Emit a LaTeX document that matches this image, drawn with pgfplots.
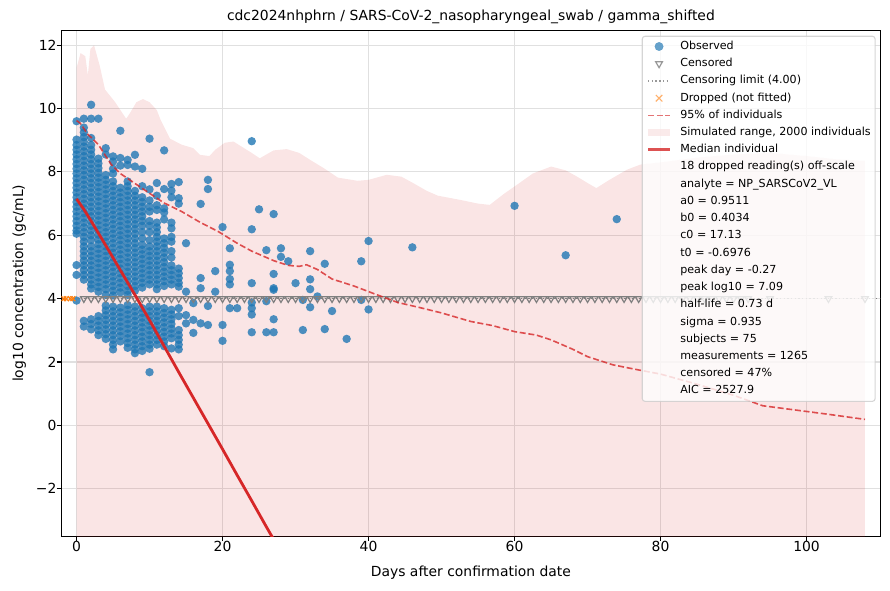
\documentclass[border=0pt]{standalone}
\usepackage{fontspec}
\setmainfont{DejaVu Sans}
\usepackage{pgfplots}
\pgfplotsset{compat=1.18}
\definecolor{cblue}{HTML}{1F77B4}
\definecolor{cred}{HTML}{D62728}
\definecolor{corange}{HTML}{FF7F0E}
\definecolor{cgray}{HTML}{7F7F7F}
\colorlet{lblue}{cblue!85!white}
\colorlet{lred}{cred!80!white}
\colorlet{lpink}{cred!12!white}
\newcommand{\lfont}{\fontsize{13.9}{16.7}\selectfont}
\newcommand{\sfont}{\fontsize{11.1}{13.3}\selectfont}
\pgfplotsset{
  markimg/.style={legend image code/.code={\draw[##1] plot coordinates {(11pt,0pt)};}},
  lineimg/.style={legend image code/.code={\draw[##1] (0pt,0pt) -- (22pt,0pt);}},
  rectimg/.style={legend image code/.code={\fill[##1, sharp corners] (0pt,-3.65pt) rectangle (22pt,3.65pt);}},
}
\begin{document}
\begin{tikzpicture}[x=1pt,y=1pt]
\path[use as bounding box] (-61.5,-53.7) rectangle (828.5,536.3);
\begin{axis}[
  scale only axis, width=818.8pt, height=506pt,
  at={(0,0)}, anchor=south west,
  clip marker paths=true,
  xmin=-2.06, xmax=110.1, ymin=-3.5, ymax=12.47,
  xtick={0,20,40,60,80,100},
  ytick={-2,0,2,4,6,8,10,12},
  yticklabels={−2,0,2,4,6,8,10,12},
  /pgf/number format/assume math mode=true,
  tick align=outside, tick pos=left,
  major tick length=4.86pt,
  tick style={line width=1.1pt, black},
  axis line style={line width=1.1pt, black},
  grid=major,
  major grid style={line width=1.1pt, color=black!12},
  xticklabel style={font=\lfont, inner sep=0pt},
  yticklabel style={font=\lfont, inner sep=0pt},
  title={cdc2024nhphrn / SARS-CoV-2\_nasopharyngeal\_swab / gamma\_shifted},
  title style={font=\lfont, at={(axis description cs:0.5,1.0075)}, anchor=base, inner sep=0pt},
  xlabel={Days after confirmation date},
  xlabel style={font=\lfont, at={(axis description cs:0.5,-0.0785)}, anchor=base, inner sep=0pt},
  ylabel={log10 concentration (gc/mL)},
  ylabel style={font=\lfont, at={(axis description cs:-0.047,0.5)}, anchor=base, inner sep=0pt},
  legend cell align=left,
  legend style={at={(axis description cs:0.7086,0.9893)}, anchor=north west,
    draw=black!20, line width=1.1pt, rounded corners=2.8pt, fill=white,
    fill opacity=0.8, draw opacity=0.8, text opacity=1, font=\sfont,
    inner xsep=4.4pt, inner ysep=5pt, row sep=6.73pt, column sep=8.9pt,
    nodes={inner sep=0pt, text height=8.1pt, text depth=2.4pt}},
]
% simulated range
\addplot[forget plot, draw=none, fill=cred, fill opacity=0.12] coordinates {
(0,-10) (0,11.28) (0.55,11.75) (1.2,11.65) (1.55,11.05) (1.9,11.88) (2.4,12.0) (3.2,11.33) (3.9,10.6) (5.3,10.2) (6.3,9.85) (6.8,9.68) (7.3,9.85) (8.2,10.2) (9.1,10.3) (10,10.2) (11,9.95) (11.5,9.65) (12.8,9.05) (14.4,8.86) (16,8.75) (16.9,8.54) (18.2,8.50) (19,8.7) (20.3,8.92) (21.5,8.96) (22.6,8.8) (24,8.6) (25.1,8.43) (26,8.55) (27,8.68) (28.8,8.72) (30.5,8.6) (32,8.38) (34,8.1) (35.8,7.82) (38.5,7.72) (40,7.75) (42.5,7.91) (44.5,7.85) (46.1,7.65) (48,7.4) (49.5,7.25) (52.5,7.12) (55,7.0) (56.6,6.96) (58.5,7.3) (60.3,7.59) (62.5,7.95) (65,8.17) (67,8.05) (68.5,7.86) (70,7.65) (71.2,7.49) (73,7.75) (75.4,8.07) (77.2,8.23) (80,8.3) (85,8.45) (90,8.55) (95,8.6) (100,8.5) (104,8.4) (108,8.35) (108,-10)};
% observed
\addplot[forget plot, only marks, mark=*, mark size=4.2pt, mark options={fill=cblue, fill opacity=0.8, draw opacity=0}] coordinates {
(0,9.60)(0,9.02)(0,8.85)(0,8.70)(0,8.55)(0,8.40)(0,8.25)(0,8.10)(0,7.95)(0,7.80)(0,7.65)(0,7.50)(0,7.35)(0,7.20)(0,7.05)(0,6.90)(0,6.75)(0,6.60)(0,6.45)(0,6.30)(0,6.15)(0,6.05)(0,5.06)(0,4.75)(0,3.94)
(1,9.68)(1,9.40)(1,9.25)(1,9.10)(1,8.95)(1,8.80)(1,8.65)(1,8.50)(1,8.35)(1,8.20)(1,8.05)(1,7.90)(1,7.75)(1,7.60)(1,7.45)(1,7.30)(1,7.15)(1,7.00)(1,6.85)(1,6.70)(1,6.55)(1,6.40)(1,6.25)(1,6.10)(1,5.95)(1,5.80)(1,5.65)(1,5.50)(1,5.35)(1,5.20)(1,5.05)(1,4.90)(1,4.75)(1,4.60)(1,3.30)(1,3.12)
(2,10.12)(2,9.68)(2,9.07)(2,8.85)(2,8.70)(2,8.55)(2,8.40)(2,8.25)(2,8.10)(2,7.95)(2,7.80)(2,7.65)(2,7.50)(2,7.35)(2,7.20)(2,7.05)(2,6.90)(2,6.75)(2,6.60)(2,6.45)(2,6.30)(2,6.15)(2,6.00)(2,5.85)(2,5.65)(2,5.50)(2,5.35)(2,5.20)(2,5.05)(2,4.90)(2,4.75)(2,4.60)(2,4.45)(2,4.32)(2,3.35)(2,3.20)(2,3.03)
(3,9.68)(3,8.42)(3,8.27)(3,8.12)(3,7.97)(3,7.82)(3,7.67)(3,7.52)(3,7.37)(3,7.22)(3,7.07)(3,6.92)(3,6.77)(3,6.62)(3,6.47)(3,6.32)(3,6.17)(3,6.02)(3,5.87)(3,5.72)(3,5.57)(3,5.42)(3,5.27)(3,5.12)(3,4.97)(3,4.82)(3,4.67)(3,4.52)(3,4.37)(3,4.22)(3,3.45)(3,3.30)(3,3.15)(3,3.00)(3,2.85)
(4,8.75)(4,8.55)(4,7.90)(4,7.75)(4,7.60)(4,7.45)(4,7.30)(4,7.15)(4,7.00)(4,6.85)(4,6.70)(4,6.55)(4,6.40)(4,6.25)(4,6.10)(4,5.95)(4,5.80)(4,5.65)(4,5.50)(4,5.35)(4,5.20)(4,5.05)(4,4.90)(4,4.75)(4,4.60)(4,4.45)(4,4.30)(4,4.12)(4,3.78)(4,3.63)(4,3.48)(4,3.33)(4,3.18)(4,3.03)(4,2.88)(4,2.73)
(5,8.49)(5,8.33)(5,8.10)(5,7.95)(5,7.70)(5,7.55)(5,7.40)(5,7.25)(5,7.10)(5,6.95)(5,6.80)(5,6.65)(5,6.50)(5,6.35)(5,6.20)(5,6.05)(5,5.90)(5,5.75)(5,5.60)(5,5.45)(5,5.30)(5,5.15)(5,5.00)(5,4.85)(5,4.70)(5,4.55)(5,4.40)(5,4.25)(5,4.10)(5,3.75)(5,3.60)(5,3.45)(5,3.30)(5,3.15)(5,3.00)(5,2.85)(5,2.70)(5,2.55)(5,2.40)
(6,9.30)(6,8.44)(6,8.20)(6,7.50)(6,7.35)(6,7.20)(6,7.05)(6,6.90)(6,6.75)(6,6.60)(6,6.45)(6,6.30)(6,6.15)(6,6.00)(6,5.85)(6,5.70)(6,5.55)(6,5.40)(6,5.25)(6,5.10)(6,4.95)(6,4.80)(6,4.65)(6,4.50)(6,4.35)(6,4.20)(6,3.72)(6,3.57)(6,3.42)(6,3.27)(6,3.12)(6,2.97)(6,2.82)(6,2.65)
(7,8.38)(7,8.22)(7,7.70)(7,7.55)(7,7.40)(7,7.25)(7,7.10)(7,6.95)(7,6.80)(7,6.65)(7,6.50)(7,6.35)(7,6.20)(7,6.05)(7,5.90)(7,5.75)(7,5.60)(7,5.45)(7,5.30)(7,5.15)(7,5.00)(7,4.85)(7,4.70)(7,4.55)(7,4.40)(7,4.25)(7,4.12)(7,3.80)(7,3.65)(7,3.50)(7,3.35)(7,3.20)(7,3.05)(7,2.90)(7,2.75)(7,2.60)(7,2.45)
(8,8.54)(8,8.17)(8,7.40)(8,7.25)(8,7.10)(8,6.95)(8,6.80)(8,6.65)(8,6.50)(8,6.35)(8,6.20)(8,6.05)(8,5.90)(8,5.75)(8,5.60)(8,5.45)(8,5.30)(8,5.15)(8,5.00)(8,4.85)(8,4.70)(8,4.55)(8,4.40)(8,4.25)(8,3.75)(8,3.60)(8,3.45)(8,3.30)(8,3.15)(8,3.00)(8,2.85)(8,2.70)(8,2.55)(8,2.40)(8,2.28)
(9,8.10)(9,7.55)(9,7.20)(9,7.05)(9,6.90)(9,6.75)(9,6.60)(9,6.45)(9,6.30)(9,6.10)(9,5.90)(9,5.70)(9,5.55)(9,5.40)(9,5.25)(9,5.10)(9,4.95)(9,4.80)(9,4.65)(9,4.50)(9,4.35)(9,3.70)(9,3.55)(9,3.40)(9,3.25)(9,3.10)(9,2.95)(9,2.80)(9,2.65)(9,2.50)(9,2.35)
(10,9.05)(10,7.45)(10,7.10)(10,6.90)(10,6.75)(10,6.45)(10,6.30)(10,6.10)(10,5.85)(10,5.65)(10,5.50)(10,5.35)(10,5.20)(10,5.05)(10,4.90)(10,4.75)(10,4.60)(10,4.45)(10,3.75)(10,3.60)(10,3.45)(10,3.30)(10,3.15)(10,3.00)(10,2.85)(10,2.70)(10,2.55)(10,2.42)(10,1.68)
(11,7.65)(11,7.25)(11,6.95)(11,6.80)(11,6.40)(11,6.25)(11,6.10)(11,5.95)(11,5.80)(11,5.65)(11,5.50)(11,5.35)(11,5.20)(11,5.05)(11,4.90)(11,4.75)(11,4.60)(11,4.45)(11,4.30)(11,3.75)(11,3.60)(11,3.45)(11,3.30)(11,3.15)(11,3.00)(11,2.85)(11,2.70)(11,2.55)
(12,8.68)(12,7.46)(12,6.85)(12,6.72)(12,6.50)(12,5.90)(12,5.75)(12,5.60)(12,5.45)(12,5.30)(12,5.15)(12,5.00)(12,4.85)(12,4.70)(12,4.55)(12,4.40)(12,3.70)(12,3.55)(12,3.40)(12,3.25)(12,3.10)(12,2.95)(12,2.80)(12,2.65)(12,2.50)
(13,7.62)(13,7.41)(13,7.20)(13,6.40)(13,6.22)(13,5.95)(13,5.80)(13,5.50)(13,5.30)(13,5.05)(13,4.90)(13,4.75)(13,4.60)(13,4.45)(13,3.65)(13,3.50)(13,3.35)(13,3.20)(13,3.05)(13,2.90)(13,2.75)(13,2.43)
(14,7.68)(14,7.17)(14,7.00)(14,4.95)(14,4.80)(14,4.65)(14,4.50)(14,4.38)(14,3.70)(14,3.45)(14,3.01)(14,2.85)(14,2.70)(14,2.55)(14,2.40)
(15,5.75)(15,4.22)(15,3.48)(15,3.22)
(16,3.86)(16,3.33)(16,2.92)
(17,6.99)(17,4.65)(17,4.33)(17,3.22)
(18,7.75)(18,7.46)(18,3.77)(18,3.17)
(19,4.87)(19,4.22)
(20,6.26)(20,3.17)(20,2.67)
(21,5.59)(21,5.07)(21,4.87)(21,4.62)(21,4.45)(21,3.70)
(22,3.70)
(24,8.97)(24,6.19)(24,4.49)(24,3.88)(24,3.70)(24,3.50)(24,2.94)
(25,6.82)
(26,5.53)(26,3.92)(26,2.94)
(27,6.67)(27,4.78)(27,4.33)(27,4.28)(27,3.35)(27,2.94)
(28,5.59)(28,5.32)
(29,5.18)
(30,4.49)
(31,3.96)(31,3.01)
(32,5.50)(32,4.61)(32,4.30)(32,3.73)
(33,4.07)
(34,5.10)(34,3.04)
(35,3.61)
(37,2.73)
(39,5.18)(39,3.96)
(40,5.82)(40,3.66)
(46,5.62)
(60,6.93)
(67,5.37)
(74,6.51)
};
% censored
\addplot[forget plot, only marks, mark=triangle, mark size=3.8pt, mark options={rotate=180, draw=cgray, line width=1.2pt}] coordinates {
(1,4)(2,4)(3,4)(4,4)(5,4)(6,4)(7,4)(8,4)(9,4)(10,4)(11,4)(12,4)(13,4)(14,4)(15,4)(16,4)(17,4)(18,4)(19,4)(20,4)
(21,4)(22,4)(23,4)(24,4)(25,4)(26,4)(27,4)(28,4)(29,4)(30,4)(31,4)(32,4)(33,4)(34,4)(35,4)(36,4)(37,4)(38,4)(39,4)(40,4)
(41,4)(42,4)(43,4)(44,4)(45,4)(46,4)(47,4)(48,4)(49,4)(50,4)(51,4)(52,4)(53,4)(54,4)(55,4)(56,4)(57,4)(58,4)(59,4)(60,4)
(61,4)(62,4)(63,4)(64,4)(65,4)(66,4)(67,4)(68,4)(69,4)(70,4)(71,4)(72,4)(73,4)(74,4)(75,4)(76,4)(77,4)(78,4)(79,4)(80,4)
(81,4)(82,4)(83,4)(84,4)(85,4)(86,4)(87,4)(88,4)(89,4)(90,4)(91,4)(92,4)(95,4)(103,4)(108,4)
};
% censoring limit
\addplot[forget plot, cgray, line width=1.4pt, dash pattern=on 1.4pt off 2.3pt] coordinates {(-3,4) (112,4)};
% dropped
\addplot[forget plot, only marks, mark=x, mark size=3.4pt, mark options={draw=corange, line width=1.2pt}] coordinates {
(-1.75,4.0)(-1.4,4.0)(-0.85,4.0)(-0.5,4.0)
};
% 95% of individuals
\addplot[forget plot, cred, draw opacity=0.8, line width=1.6pt, dash pattern=on 6pt off 2.7pt] coordinates {
(0,9.62) (0.5,9.54) (1.5,9.2) (3,8.86) (4,8.5) (4.8,8.22) (6,7.95) (7.6,7.70) (9,7.48) (10.3,7.28) (12,7.02) (14.4,6.75) (17,6.4) (19.4,6.12) (22,5.75) (24,5.5) (27,5.2) (29,5.05) (30.5,5.02) (31.5,5.07) (33,4.92) (35,4.62) (38,4.4) (40.6,4.17) (44,3.88) (47,3.72) (50,3.55) (54,3.28) (57,3.15) (60,2.96) (63,2.85) (65,2.70) (68,2.4) (70,2.17) (73.5,1.91) (77,1.75) (80,1.62) (85,1.3) (90,0.95) (94,0.62) (98,0.5) (103,0.35) (108,0.19)};
% median individual
\addplot[forget plot, cred, line width=2.8pt] coordinates {
(0,7.15) (1,6.82) (2,6.45) (4,5.68) (6,4.9) (8,4.12) (10,3.32) (12,2.5) (14,1.68) (16,0.87) (18,0.06) (20,-0.75) (22,-1.57) (24,-2.38) (26,-3.2) (27.5,-3.8)};
% legend
\addlegendimage{markimg, only marks, mark=*, mark size=4.2pt, mark options={draw=lblue, fill=lblue, line width=0.3pt}}
\addlegendentry{Observed}
\addlegendimage{markimg, only marks, mark=triangle, mark size=3.9pt, mark options={rotate=180, draw=cgray, line width=1.2pt}}
\addlegendentry{Censored}
\addlegendimage{lineimg, draw=cgray, line width=1.4pt, dash pattern=on 1.4pt off 2.3pt}
\addlegendentry{Censoring limit (4.00)}
\addlegendimage{markimg, only marks, mark=x, mark size=4.6pt, mark options={draw=corange!75!white, line width=1.1pt}}
\addlegendentry{Dropped (not fitted)}
\addlegendimage{lineimg, draw=lred, line width=1.6pt, dash pattern=on 6pt off 2.7pt}
\addlegendentry{95\% of individuals}
\addlegendimage{rectimg, draw=none, fill=lpink}
\addlegendentry{Simulated range, 2000 individuals}
\addlegendimage{lineimg, draw=cred, line width=2.8pt}
\addlegendentry{Median individual}
\addlegendimage{empty legend}\addlegendentry{18 dropped reading(s) off-scale}
\addlegendimage{empty legend}\addlegendentry{analyte = NP\_SARSCoV2\_VL}
\addlegendimage{empty legend}\addlegendentry{a0 = 0.9511}
\addlegendimage{empty legend}\addlegendentry{b0 = 0.4034}
\addlegendimage{empty legend}\addlegendentry{c0 = 17.13}
\addlegendimage{empty legend}\addlegendentry{t0 = -0.6976}
\addlegendimage{empty legend}\addlegendentry{peak day = -0.27}
\addlegendimage{empty legend}\addlegendentry{peak log10 = 7.09}
\addlegendimage{empty legend}\addlegendentry{half-life = 0.73 d}
\addlegendimage{empty legend}\addlegendentry{sigma = 0.935}
\addlegendimage{empty legend}\addlegendentry{subjects = 75}
\addlegendimage{empty legend}\addlegendentry{measurements = 1265}
\addlegendimage{empty legend}\addlegendentry{censored = 47\%}
\addlegendimage{empty legend}\addlegendentry{AIC = 2527.9}
\end{axis}
\end{tikzpicture}
\end{document}
